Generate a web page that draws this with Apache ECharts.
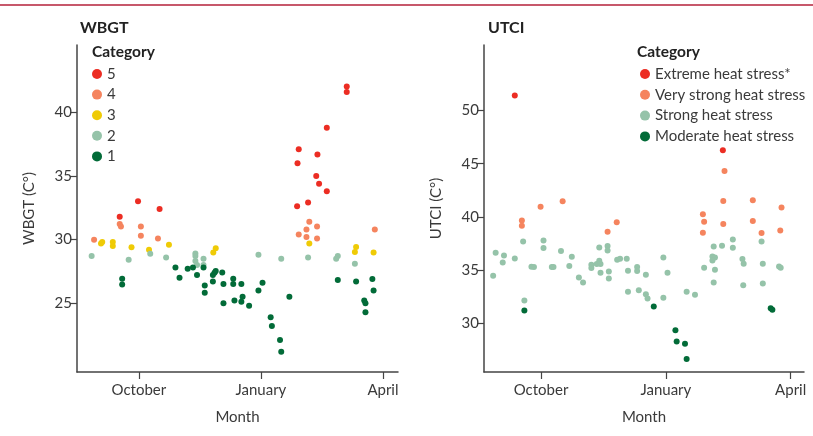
<!DOCTYPE html>
<html>
<head>
<meta charset="utf-8">
<script src="https://cdn.jsdelivr.net/npm/echarts@6/dist/echarts.min.js"></script>
<style>
html,body{margin:0;padding:0;background:#fff;}
#chart{width:813px;height:436px;}
</style>
</head>
<body>
<div id="chart"></div>
<script>
// x = months after 1 October (0 = Oct 1, 3 = Jan 1, 6 = Apr 1); y = index value in °C
var xTickValues = [0, 3, 6];
var xTickLabels = ['October', 'January', 'April'];
var wbgtTicks = [25, 30, 35, 40];
var utciTicks = [30, 35, 40, 45, 50];

// WBGT categories
var wbgtCat5 = [[-0.02,33.01],[0.51,32.41],[-0.47,31.80],[5.11,42.03],[5.11,41.60],[4.62,38.79],[3.93,37.11],[4.39,36.69],[3.90,36.00],[4.36,35.01],[4.43,34.40],[4.62,33.80],[3.89,32.62],[4.16,32.91]];
var wbgtCat4 = [[-1.10,29.99],[-0.47,31.23],[-0.44,31.02],[0.05,31.02],[0.05,30.31],[0.47,30.09],[4.19,31.41],[4.38,31.02],[4.12,30.80],[3.93,30.41],[4.12,30.20],[4.38,30.09],[5.80,30.80]];
var wbgtCat3 = [[-0.93,29.70],[-0.90,29.81],[-0.64,29.81],[-0.64,29.50],[-0.18,29.39],[0.25,29.20],[0.74,29.60],[1.83,28.99],[1.89,29.31],[4.19,29.70],[5.34,29.42],[5.31,29.02],[5.77,28.99]];
var wbgtCat2 = [[-1.16,28.71],[-0.25,28.42],[0.28,28.89],[0.67,28.60],[1.39,28.91],[1.39,28.71],[1.39,28.31],[1.43,28.00],[1.59,28.49],[1.59,28.00],[2.94,28.81],[3.50,28.49],[4.16,28.60],[4.89,28.71],[4.85,28.49],[5.31,28.10]];
var wbgtCat1 = [[-0.41,26.92],[-0.41,26.47],[0.90,27.81],[1.00,27.00],[1.20,27.71],[1.33,27.81],[1.43,27.21],[1.59,27.81],[1.62,26.39],[1.62,25.82],[1.82,27.21],[1.86,27.39],[1.89,27.53],[1.82,26.71],[2.05,27.42],[2.08,26.50],[2.08,25.00],[2.32,26.92],[2.32,26.50],[2.35,25.21],[2.52,26.50],[2.55,25.50],[2.52,25.11],[2.71,24.79],[3.04,26.60],[2.94,26.00],[3.70,25.50],[3.24,23.90],[3.27,23.21],[3.47,22.11],[3.50,21.19],[4.89,26.82],[5.34,26.71],[5.74,26.90],[5.77,26.00],[5.54,25.21],[5.57,25.00],[5.57,24.29]];

// UTCI categories
var utciExtreme = [[-0.63,51.41],[4.37,46.27]];
var utciVeryStrong = [[-0.01,40.97],[0.52,41.47],[-0.46,39.68],[-0.46,39.19],[1.82,39.50],[1.60,38.62],[4.41,44.33],[4.38,41.51],[5.09,41.57],[5.78,40.90],[3.89,40.25],[3.92,39.56],[4.38,39.35],[5.09,39.63],[3.89,38.53],[5.30,38.50],[5.75,38.74]];
var utciStrong = [[-0.43,37.71],[-1.09,36.65],[-0.89,36.39],[-0.92,35.74],[-0.63,36.11],[-1.15,34.49],[0.06,37.80],[0.06,37.09],[-0.23,35.33],[-0.17,35.30],[0.26,35.30],[0.30,35.30],[0.48,36.81],[0.74,36.27],[0.68,35.40],[0.91,34.33],[1.01,33.86],[-0.40,32.16],[1.21,35.52],[1.21,35.21],[1.34,35.59],[1.40,35.90],[1.43,35.59],[1.40,37.15],[1.60,37.28],[1.60,36.86],[1.43,34.77],[1.63,34.89],[1.63,34.23],[1.83,35.99],[1.90,36.08],[2.06,36.08],[2.09,34.96],[2.09,32.98],[2.31,35.30],[2.31,34.93],[2.35,33.14],[2.52,34.58],[2.52,32.76],[2.56,32.35],[2.94,36.21],[3.04,34.77],[2.94,32.42],[3.50,32.98],[3.70,32.70],[4.15,37.24],[4.35,37.31],[4.61,37.90],[4.61,37.12],[4.12,36.30],[4.18,36.21],[4.12,35.92],[3.92,35.24],[4.18,35.05],[4.15,33.86],[4.84,36.06],[4.87,35.61],[4.86,33.61],[5.30,37.71],[5.33,35.61],[5.33,33.76],[5.72,35.36],[5.76,35.24]];
var utciModerate = [[-0.40,31.22],[2.71,31.60],[3.23,29.38],[3.26,28.31],[3.46,28.12],[3.50,26.68],[5.52,31.45],[5.56,31.29]];

var wbgtNames = ['5', '4', '3', '2', '1'];
var utciNames = ['Extreme heat stress*', 'Very strong heat stress', 'Strong heat stress', 'Moderate heat stress'];

var C = {red:'#ec2d23', orange:'#f5845e', yellow:'#efcb06', lgreen:'#95c3a9', dgreen:'#026b38'};
var FONT = 'Lato';
var TXT = '#3a3a3a';

function xAxisCfg(gi, min, max){
  return {
    type:'value', gridIndex:gi, min:min, max:max,
    name:'Month', nameLocation:'middle', nameGap:38,
    nameTextStyle:{fontFamily:FONT, fontSize:15, color:TXT},
    axisLine:{show:true, onZero:false, lineStyle:{color:'#444', width:1.5}},
    axisTick:{show:true, length:7, lineStyle:{color:'#444', width:1.2}, customValues:xTickValues},
    axisLabel:{fontFamily:FONT, fontSize:15, color:TXT, margin:11, customValues:xTickValues,
      formatter:function(v){ var i = xTickValues.indexOf(Math.round(v)); return i>=0 ? xTickLabels[i] : ''; }},
    splitLine:{show:false}
  };
}
function yAxisCfg(gi, min, max, ticks, name, gap){
  return {
    type:'value', gridIndex:gi, min:min, max:max,
    name:name, nameLocation:'middle', nameGap:gap, nameRotate:90,
    nameTextStyle:{fontFamily:FONT, fontSize:15, color:TXT},
    axisLine:{show:true, onZero:false, lineStyle:{color:'#444', width:1.5}},
    axisTick:{show:true, length:7, lineStyle:{color:'#444', width:1.2}, customValues:ticks},
    axisLabel:{fontFamily:FONT, fontSize:15, color:TXT, margin:5, customValues:ticks},
    splitLine:{show:false}
  };
}
function sc(name, data, color, xi){
  return {type:'scatter', name:name, data:data, xAxisIndex:xi, yAxisIndex:xi,
    symbol:'circle', symbolSize:6, itemStyle:{color:color, opacity:1}, emphasis:{disabled:true}};
}

var chart = echarts.init(document.getElementById('chart'), null, {renderer:'canvas'});
chart.setOption({
  animation:false,
  backgroundColor:'#fff',
  title:[
    {text:'WBGT', left:75, top:15, textStyle:{fontFamily:FONT, fontSize:16, fontWeight:'bold', color:'#222'}},
    {text:'UTCI', left:483, top:15, textStyle:{fontFamily:FONT, fontSize:16, fontWeight:'bold', color:'#222'}}
  ],
  graphic:[
    {type:'line', shape:{x1:0, y1:5, x2:813, y2:5}, style:{stroke:'#b5203a', lineWidth:1.5}},
    {type:'text', left:92, top:44, style:{text:'Category', fontFamily:FONT, fontSize:15.5, fontWeight:'bold', fill:'#222'}},
    {type:'text', left:637, top:44, style:{text:'Category', fontFamily:FONT, fontSize:15.5, fontWeight:'bold', fill:'#222'}}
  ],
  legend:[
    {data:wbgtNames, orient:'vertical', left:92, top:66, padding:0, itemGap:4.6, itemWidth:10, itemHeight:10,
      icon:'circle', selectedMode:false, textStyle:{fontFamily:FONT, fontSize:15, color:TXT, lineHeight:16}},
    {data:utciNames, orient:'vertical', left:640, top:66, padding:0, itemGap:4.8, itemWidth:10, itemHeight:10,
      icon:'circle', selectedMode:false, textStyle:{fontFamily:FONT, fontSize:15, color:TXT, lineHeight:16}}
  ],
  grid:[
    {left:77, top:45, width:321, height:327},
    {left:484, top:45, width:320, height:327}
  ],
  xAxis:[ xAxisCfg(0, -1.52, 6.37), xAxisCfg(1, -1.37, 6.32) ],
  yAxis:[ yAxisCfg(0, 19.59, 45.3, wbgtTicks, 'WBGT (C°)', 40), yAxisCfg(1, 25.46, 56.14, utciTicks, 'UTCI (C°)', 40) ],
  series:[
    sc(wbgtNames[0], wbgtCat5, C.red, 0),
    sc(wbgtNames[1], wbgtCat4, C.orange, 0),
    sc(wbgtNames[2], wbgtCat3, C.yellow, 0),
    sc(wbgtNames[3], wbgtCat2, C.lgreen, 0),
    sc(wbgtNames[4], wbgtCat1, C.dgreen, 0),
    sc(utciNames[0], utciExtreme, C.red, 1),
    sc(utciNames[1], utciVeryStrong, C.orange, 1),
    sc(utciNames[2], utciStrong, C.lgreen, 1),
    sc(utciNames[3], utciModerate, C.dgreen, 1)
  ]
});
</script>
</body>
</html>
